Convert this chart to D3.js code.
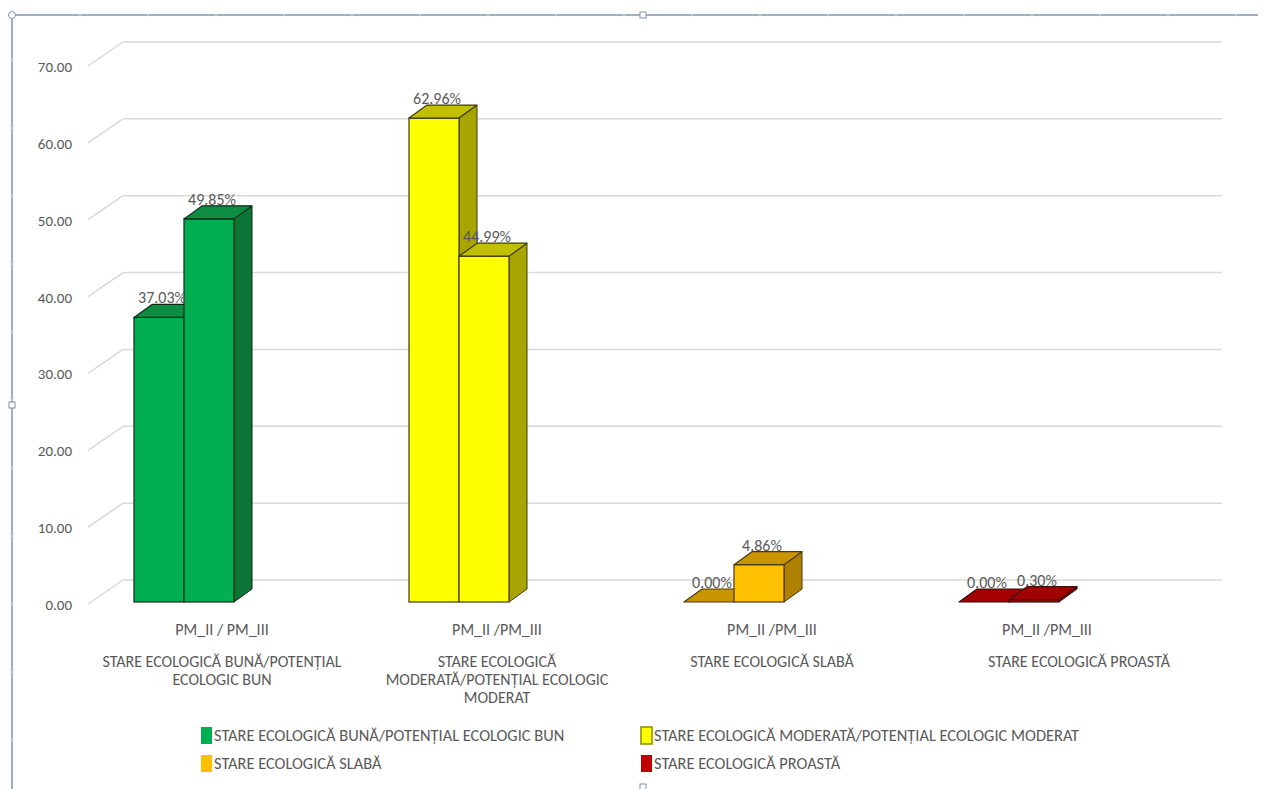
<!DOCTYPE html>
<html>
<head>
<meta charset="utf-8">
<script src="https://cdn.jsdelivr.net/npm/d3@7"></script>
<style>
  body { margin: 0; background: #fff; }
  svg text { font-family: "Liberation Sans Narrow", Carlito, Calibri, "Liberation Sans", sans-serif; fill: #595959; }
</style>
</head>
<body>
<script>
// Chart data
var categories = ["STARE ECOLOGICĂ BUNĂ/POTENȚIAL ECOLOGIC BUN",
                  "STARE ECOLOGICĂ MODERATĂ/POTENȚIAL ECOLOGIC MODERAT",
                  "STARE ECOLOGICĂ SLABĂ",
                  "STARE ECOLOGICĂ PROASTĂ"];
var categoryLines = [["STARE ECOLOGICĂ BUNĂ/POTENȚIAL", "ECOLOGIC BUN"],
                     ["STARE ECOLOGICĂ", "MODERATĂ/POTENȚIAL ECOLOGIC", "MODERAT"],
                     ["STARE ECOLOGICĂ SLABĂ"],
                     ["STARE ECOLOGICĂ PROASTĂ"]];
var periodLabels = ["PM_II / PM_III", "PM_II /PM_III", "PM_II /PM_III", "PM_II /PM_III"];
var series = ["PM_II", "PM_III"];
var pmII = [37.03, 62.96, 0.00, 0.00];
var pmIII = [49.85, 44.99, 4.86, 0.30];
var yTicks = [0, 10, 20, 30, 40, 50, 60, 70];

// colours per category: front, top, side
var fronts = ["#00B050", "#FFFF00", "#FFC000", "#C00000"];
var tops   = ["#0E8C42", "#C2BE00", "#C89400", "#A30000"];
var sides  = ["#0B7536", "#A9A500", "#AE8200", "#8A0000"];
var edges  = ["#0d2a18", "#3a3a10", "#4a3a10", "#3a1010"];

// Chart params
var svgWidth = 1268, svgHeight = 789;
var svg = d3.select("body").append("svg")
  .attr("width", svgWidth)
  .attr("height", svgHeight);

// frame of the embedded object
var frameColor = "#8094ae";
svg.append("line").attr("x1", 12).attr("x2", 1258).attr("y1", 15).attr("y2", 15)
  .attr("stroke", frameColor).attr("stroke-width", 1.5);
svg.append("line").attr("x1", 12).attr("x2", 12).attr("y1", 15).attr("y2", 789)
  .attr("stroke", frameColor).attr("stroke-width", 1.5);
d3.range(80, 1250, 68).forEach(function(x) {
  svg.append("line").attr("x1", x).attr("x2", x).attr("y1", 13).attr("y2", 17)
    .attr("stroke", "#dde3ea").attr("stroke-width", 1);
});
d3.range(60, 789, 68).forEach(function(y) {
  svg.append("line").attr("x1", 10).attr("x2", 14).attr("y1", y).attr("y2", y)
    .attr("stroke", "#dde3ea").attr("stroke-width", 1);
});
[[643, 15], [12, 405], [643, 787]].forEach(function(p) {
  svg.append("rect").attr("x", p[0] - 3).attr("y", p[1] - 3).attr("width", 6).attr("height", 6)
    .attr("fill", "#fff").attr("stroke", frameColor).attr("stroke-width", 1);
});
svg.append("circle").attr("cx", 12).attr("cy", 15).attr("r", 3.5)
  .attr("fill", "#fff").attr("stroke", frameColor).attr("stroke-width", 1);

// scales
var yBack = d3.scaleLinear().domain([0, 70]).range([580, 42]);
var yBar = d3.scaleLinear().domain([0, 70]).range([602, 64]);
var wallDx = -35, wallDy = 24;   // back wall -> front of floor
var depthX = 18, depthY = -13;   // bar depth

var xCat = d3.scaleBand().domain(categories).range([46.5, 1146.5]).padding(0);

// gridlines on back wall + floor diagonals
yTicks.forEach(function(t) {
  var yb = yBack(t);
  svg.append("line").attr("x1", 123).attr("x2", 1222).attr("y1", yb).attr("y2", yb)
    .attr("stroke", "#d9d9d9").attr("stroke-width", 1.5);
  svg.append("line").attr("x1", 123).attr("x2", 123 + wallDx).attr("y1", yb).attr("y2", yb + wallDy)
    .attr("stroke", "#d9d9d9").attr("stroke-width", 1.5);
  svg.append("text")
    .attr("x", 72).attr("y", yb + wallDy + 6)
    .attr("text-anchor", "end")
    .style("font-size", "15px")
    .text(d3.format(".2f")(t));
});

// bars
categories.forEach(function(c, i) {
  var center = xCat(c) + xCat.bandwidth() / 2;
  var xSer = d3.scaleBand().domain(series).range([center - 50, center + 50]);
  var vals = [pmII[i], pmIII[i]];
  series.forEach(function(s, j) {
    var v = vals[j];
    var x0 = xSer(s), x1 = x0 + xSer.bandwidth();
    var yt = yBar(v), y0 = yBar(0);
    var g = svg.append("g");
    // side face
    g.append("path")
      .attr("d", `M${x1},${yt} L${x1 + depthX},${yt + depthY} L${x1 + depthX},${y0 + depthY} L${x1},${y0} Z`)
      .attr("fill", sides[i]).attr("stroke", edges[i]).attr("stroke-width", 1).attr("stroke-linejoin", "round");
    // front face
    if (v > 0) {
      g.append("rect")
        .attr("x", x0).attr("y", yt).attr("width", x1 - x0).attr("height", y0 - yt)
        .attr("fill", fronts[i]).attr("stroke", edges[i]).attr("stroke-width", 1.2);
    }
    // top face
    g.append("path")
      .attr("d", `M${x0},${yt} L${x0 + depthX},${yt + depthY} L${x1 + depthX},${yt + depthY} L${x1},${yt} Z`)
      .attr("fill", tops[i]).attr("stroke", edges[i]).attr("stroke-width", 1.2).attr("stroke-linejoin", "round");
  });
  // data labels on top
  series.forEach(function(s, j) {
    var v = vals[j];
    svg.append("text")
      .attr("x", xSer(s) + xSer.bandwidth() / 2 + 3)
      .attr("y", yBar(v) - 14)
      .attr("text-anchor", "middle")
      .style("font-size", "16px")
      .text(d3.format(".2f")(v) + "%");
  });

  // category axis labels
  var lx = center + 38;
  svg.append("text")
    .attr("x", lx).attr("y", 635)
    .attr("text-anchor", "middle")
    .style("font-size", "16px")
    .text(periodLabels[i]);
  categoryLines[i].forEach(function(line, k) {
    svg.append("text")
      .attr("x", lx + (i === 3 ? 32 : 0)).attr("y", 667 + k * 18)
      .attr("text-anchor", "middle")
      .style("font-size", "16px")
      .text(line);
  });
});

// legend
var legendPos = [[201, 727], [641, 727], [201, 755], [641, 755]];
categories.forEach(function(c, i) {
  var p = legendPos[i];
  svg.append("rect")
    .attr("x", p[0]).attr("y", p[1]).attr("width", 11).attr("height", 17)
    .attr("fill", fronts[i])
    .attr("stroke", i === 1 ? "#8a8a00" : "none").attr("stroke-width", 1.5);
  svg.append("text")
    .attr("x", p[0] + 13).attr("y", p[1] + 14)
    .style("font-size", "16.4px")
    .text(c);
});
</script>
</body>
</html>
